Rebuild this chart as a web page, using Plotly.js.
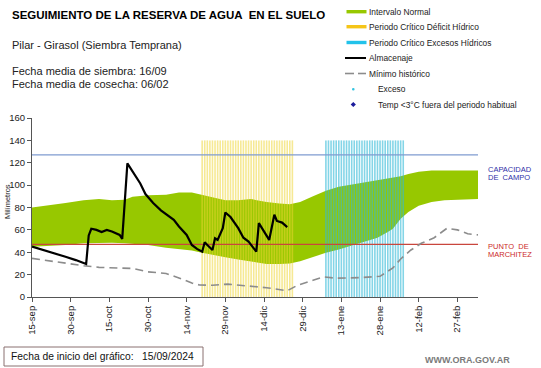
<!DOCTYPE html>
<html>
<head>
<meta charset="utf-8">
<script src="https://cdn.plot.ly/plotly-3.0.1.min.js"></script>
<style>html,body{margin:0;padding:0;background:#fff;}#chart{width:541px;height:368px;}</style>
</head>
<body>
<div id="chart"></div>
<script>
// ---- DATA (x = días desde el 15/09/2024) ----
const tickDays   = [0, 15, 30, 45, 60, 75, 90, 105, 120, 135, 150, 165];
const tickLabels = ['15-sep','30-sep','15-oct','30-oct','14-nov','29-nov','14-dic','29-dic','13-ene','28-ene','12-feb','27-feb'];

const bandDays  = [0, 7, 13, 20, 26, 31, 36, 39, 45, 52, 57, 62, 65, 70, 75, 80, 85, 91, 96, 100, 104, 109, 114, 119, 124, 129, 134, 138, 140, 143, 146, 150, 155, 160, 165, 170, 173];
const bandLower = [45, 45.5, 46.5, 48, 48.5, 48.5, 48, 47.5, 46.5, 44, 43, 41.5, 40, 37.5, 35.5, 33.5, 31.5, 29.5, 29.5, 30, 32, 36, 39.5, 42.5, 46, 49.5, 53, 58, 61, 70, 76, 81.5, 85, 86.5, 87, 87.3, 87.5];
const bandUpper = [80, 82, 84, 86.5, 87.5, 86.5, 87, 89.5, 91, 91.3, 93.5, 93.5, 92, 89, 86.5, 86.5, 87.5, 85, 83.5, 83, 85, 90, 95, 98.5, 100.5, 102, 104, 106, 107, 108, 110, 112, 113, 113, 113.5, 113.5, 113];

const minDays = [0, 7, 13, 20, 26, 33, 39, 45, 52, 57, 62, 65, 70, 76, 84, 91, 99, 103, 109, 113, 118, 127, 135, 140, 143, 147, 151, 156, 161, 165, 169, 173];
const minVals = [34.5, 32, 30, 28, 26.5, 26, 25.5, 22.5, 21, 17, 12.5, 10.7, 10.5, 11.5, 9.8, 8.3, 5.6, 10.5, 15, 18, 16.8, 17.3, 18.5, 26, 34, 42, 48, 53, 61.5, 60, 56.5, 55.5];

const almDays = [0, 7, 13, 17, 21, 22, 23, 25, 27, 29, 31, 34, 35, 37, 39, 42, 44, 47, 50, 52, 55, 57, 60, 62, 64, 66, 67, 68, 70, 71, 72, 74, 75, 77, 80, 82, 84, 87, 88, 92, 94, 95, 97, 99];
const almVals = [45, 40.5, 36, 33, 29.5, 55, 61, 60, 58, 60, 58.5, 55.5, 52, 119.5, 112, 101.5, 92, 84, 77.5, 74, 69, 63, 55.5, 46.5, 43, 40.5, 49, 46.5, 42, 52.5, 51, 61.5, 75.5, 71.5, 61.5, 53, 49.5, 40.5, 66, 51, 73.5, 68, 66.5, 62.5];

const deficitDays = [66,67,68,69,70,71,72,73,74,75,76,77,78,79,80,81,82,83,84,85,86,87,88,89,90,91,92,93,94,95,96,97,98,99,100,101];
const excesoDays  = [114,115,116,117,118,119,120,121,122,123,124,125,126,127,128,129,130,131,132,133,134,135,136,137,138,139,140,141,142,143,144];
const periodTop = 140;

const capacidadCampo = 127;
const puntoMarchitez = 47;
const xEnd = 173;

// ---- helpers ----
function vbars(days, top) {
  const xs = [], ys = [];
  days.forEach(d => { xs.push(d, d, null); ys.push(0, top, null); });
  return {xs, ys};
}
const L = 32, R = 478, T = 118, B = 297;
const PX = p => (p - L) / (R - L);
const PY = p => (B - p) / (B - T);
const FONT = 'Liberation Sans, Arial, sans-serif';

const yb = vbars(deficitDays, periodTop);
const cb = vbars(excesoDays, periodTop);

const traces = [
  {x: bandDays, y: bandLower, type: 'scatter', mode: 'lines', line: {width: 0, color: '#96c800'}, hoverinfo: 'skip', showlegend: false},
  {x: bandDays, y: bandUpper, type: 'scatter', mode: 'lines', fill: 'tonexty', fillcolor: '#97c800', line: {width: 0, color: '#96c800'}, showlegend: false},
  {x: yb.xs, y: yb.ys, type: 'scatter', mode: 'lines', line: {width: 1.6, color: 'rgba(238,212,50,0.52)'}, showlegend: false},
  {x: cb.xs, y: cb.ys, type: 'scatter', mode: 'lines', line: {width: 1.6, color: 'rgba(50,185,215,0.6)'}, showlegend: false},
  {x: [0, xEnd], y: [capacidadCampo, capacidadCampo], type: 'scatter', mode: 'lines', line: {width: 1.2, color: '#7f9bd0'}, showlegend: false},
  {x: [0, xEnd], y: [puntoMarchitez, puntoMarchitez], type: 'scatter', mode: 'lines', line: {width: 1.2, color: '#c9463d'}, showlegend: false},
  {x: minDays, y: minVals, type: 'scatter', mode: 'lines', line: {width: 1.6, color: '#8c8c8c', dash: '8px,5px'}, showlegend: false},
  {x: almDays, y: almVals, type: 'scatter', mode: 'lines', line: {width: 2.2, color: '#000000'}, showlegend: false}
];

const ann = [];
const shp = [];
function txt(text, x, y, size, opts) {
  ann.push(Object.assign({xref: 'paper', yref: 'paper', x: PX(x), y: PY(y), text: text, showarrow: false,
    xanchor: 'left', yanchor: 'middle', font: {family: FONT, size: size, color: '#111'}}, opts || {}));
}
txt('<b>SEGUIMIENTO DE LA RESERVA DE AGUA  EN EL SUELO</b>', 10, 15, 11.5, {font: {family: FONT, size: 11.5, color: '#000'}});
txt('Pilar - Girasol (Siembra Temprana)', 10, 45, 11, {font: {family: FONT, size: 11, color: '#222'}});
txt('Fecha media de siembra: 16/09', 10, 71, 11, {font: {family: FONT, size: 11, color: '#222'}});
txt('Fecha media de cosecha: 06/02', 10, 84, 11, {font: {family: FONT, size: 11, color: '#222'}});

// legend
const legRows = [11.7, 26.7, 42.5, 58, 73.5, 89.3, 104.5];
const legText = ['Intervalo Normal', 'Periodo Crítico Déficit Hídrico', 'Periodo Crítico Excesos Hídricos', 'Almacenaje', 'Mínimo histórico', 'Exceso', 'Temp <3°C fuera del periodo habitual'];
legText.forEach((t, i) => txt(t, i >= 5 ? 376 : 367, legRows[i], 8.4, {font: {family: FONT, size: 8.4, color: '#222'}}));
const swatch = (y, color) => shp.push({type: 'rect', xref: 'paper', yref: 'paper', x0: PX(346.5), x1: PX(366.5), y0: PY(y - 1.7), y1: PY(y + 1.7), fillcolor: color, line: {width: 0}});
swatch(legRows[0], '#97c800');
swatch(legRows[1], '#f5c518');
swatch(legRows[2], '#22c2ea');
shp.push({type: 'line', xref: 'paper', yref: 'paper', x0: PX(345), x1: PX(366), y0: PY(legRows[3]), y1: PY(legRows[3]), line: {color: '#000', width: 2}});
shp.push({type: 'line', xref: 'paper', yref: 'paper', x0: PX(345), x1: PX(354), y0: PY(legRows[4]), y1: PY(legRows[4]), line: {color: '#8c8c8c', width: 1.6}});
shp.push({type: 'line', xref: 'paper', yref: 'paper', x0: PX(358), x1: PX(366), y0: PY(legRows[4]), y1: PY(legRows[4]), line: {color: '#8c8c8c', width: 1.6}});
shp.push({type: 'circle', xref: 'paper', yref: 'paper', x0: PX(352), x1: PX(354.6), y0: PY(legRows[5] - 1.3), y1: PY(legRows[5] + 1.3), fillcolor: '#33c4e0', line: {width: 0}});
const dy = legRows[6], dx = 353.3;
shp.push({type: 'path', xref: 'paper', yref: 'paper', path: `M ${PX(dx)} ${PY(dy - 2.6)} L ${PX(dx + 2.6)} ${PY(dy)} L ${PX(dx)} ${PY(dy + 2.6)} L ${PX(dx - 2.6)} ${PY(dy)} Z`, fillcolor: '#1c1c9c', line: {width: 0}});

// right side labels
txt('CAPACIDAD', 486, 169, 7.5, {font: {family: FONT, size: 7.5, color: '#2f2fa8'}});
txt('DE  CAMPO', 486, 177, 7.5, {font: {family: FONT, size: 7.5, color: '#2f2fa8'}});
txt('PUNTO  DE', 486, 246, 7.5, {font: {family: FONT, size: 7.5, color: '#cc2a2a'}});
txt('MARCHITEZ', 486, 254.5, 7.5, {font: {family: FONT, size: 7.5, color: '#cc2a2a'}});

// y axis title
ann.push({xref: 'paper', yref: 'paper', x: PX(7), y: PY(202), text: 'Milímetros', textangle: -90, showarrow: false,
  xanchor: 'center', yanchor: 'middle', font: {family: FONT, size: 7.5, color: '#222'}});

// bottom box
shp.push({type: 'rect', xref: 'paper', yref: 'paper', x0: PX(4), x1: PX(203), y0: PY(366), y1: PY(347), line: {color: '#8a7070', width: 1}, fillcolor: 'rgba(0,0,0,0)'});
txt('Fecha de inicio del gráfico:\u00a0\u00a0 15/09/2024', 9, 356.5, 10.3, {font: {family: FONT, size: 10.3, color: '#111'}});
txt('<b>WWW.ORA.GOV.AR</b>', 423, 360, 9, {font: {family: FONT, size: 9, color: '#7a7a7a'}});

const layout = {
  width: 541, height: 368,
  margin: {l: L, r: 541 - R, t: T, b: 368 - B, pad: 0},
  paper_bgcolor: '#fff', plot_bgcolor: '#fff',
  showlegend: false,
  font: {family: FONT},
  xaxis: {range: [0, xEnd], tickvals: tickDays, ticktext: tickLabels, tickangle: -90, ticks: 'outside', ticklen: 4,
    tickcolor: '#555', showline: true, linecolor: '#555', linewidth: 1, showgrid: false, zeroline: false,
    tickfont: {family: FONT, size: 9.5, color: '#222'}},
  yaxis: {range: [0, 160], dtick: 20, ticks: 'outside', ticklen: 4, tickcolor: '#555', showline: true, linecolor: '#555',
    linewidth: 1, showgrid: false, zeroline: false, tickfont: {family: FONT, size: 9.5, color: '#222'}},
  annotations: ann,
  shapes: shp
};

Plotly.newPlot('chart', traces, layout, {staticPlot: true, displayModeBar: false});
</script>
</body>
</html>
